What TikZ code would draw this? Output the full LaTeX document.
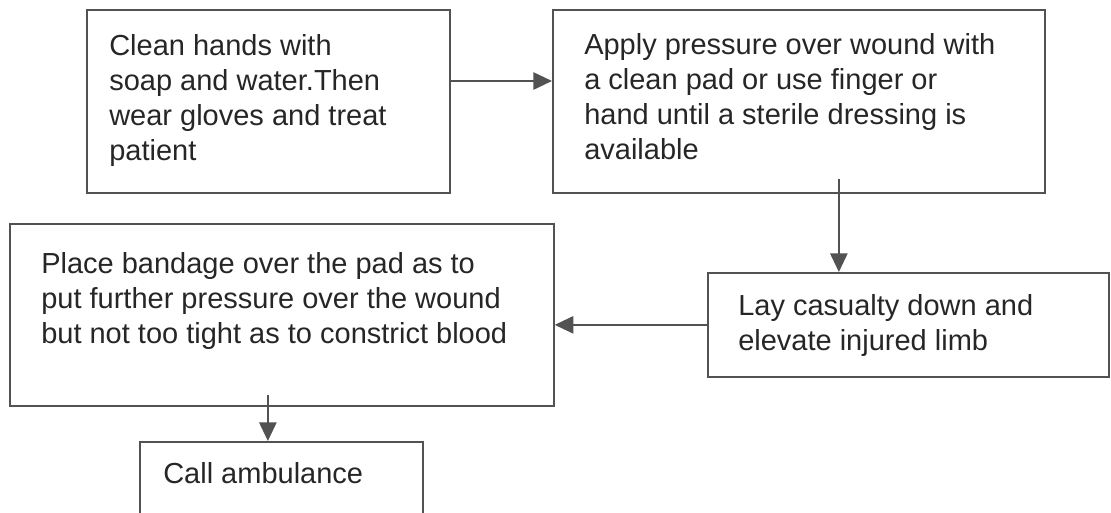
\documentclass[tikz,border=0pt]{standalone}
\usepackage{fontspec}
\setmainfont{Liberation Sans}
\usetikzlibrary{arrows.meta, positioning}

\begin{document}
\begin{tikzpicture}[
    x=0.75pt, y=-0.75pt,
    box/.style={rectangle, draw=black!68, line width=1.3pt, anchor=north west, inner sep=0pt},
    txt/.style={align=left, inner sep=0pt, text=black!85, font=\fontsize{21.75}{26.25}\selectfont},
    arrow/.style={-{Triangle[length=14pt, width=13pt]}, line width=1.3pt, draw=black!68}
]
\useasboundingbox (0,0) rectangle (1111,512);
% boxes
\node (wash) [box, minimum width=272.25pt, minimum height=137.25pt] at (86,9) {};
\node (pressure) [box, minimum width=369pt, minimum height=137.25pt] at (552,9) {};
\node (bandage) [box, minimum width=408pt, minimum height=136.5pt] at (9,223) {};
\node (elevate) [box, minimum width=300.75pt, minimum height=78pt] at (707,272) {};
\node (ambulance) [box, minimum width=212.25pt, minimum height=66.75pt] at (139,441) {};
% texts
\node (washtxt) [txt, below right=18.75pt and 17.25pt of wash.north west] {Clean hands with\\soap and water.Then\\wear gloves and treat\\patient};
\node (pressuretxt) [txt, below right=18pt and 24pt of pressure.north west] {Apply pressure over wound with\\a clean pad or use finger or\\hand until a sterile dressing is\\available};
\node (bandagetxt) [txt, below right=21.75pt and 24pt of bandage.north west] {Place bandage over the pad as to\\put further pressure over the wound\\but not too tight as to constrict blood};
\node (elevatetxt) [txt, below right=16.5pt and 23.25pt of elevate.north west] {Lay casualty down and\\elevate injured limb};
\node (ambulancetxt) [txt, below right=15.75pt and 18pt of ambulance.north west] {Call ambulance};
% connectors
\draw [arrow] ([yshift=-54pt]wash.north east) -- ([yshift=-54pt]pressure.north west);
\draw [arrow] ([xshift=30pt, yshift=11.25pt]pressure.south) -- ([xshift=30pt]pressure.south |- elevate.north);
\draw [arrow] (elevate.west) -- (elevate.west -| bandage.east);
\draw [arrow] ([xshift=-10.5pt, yshift=9pt]bandage.south) -- ([xshift=-10.5pt]bandage.south |- ambulance.north);
\end{tikzpicture}
\end{document}
